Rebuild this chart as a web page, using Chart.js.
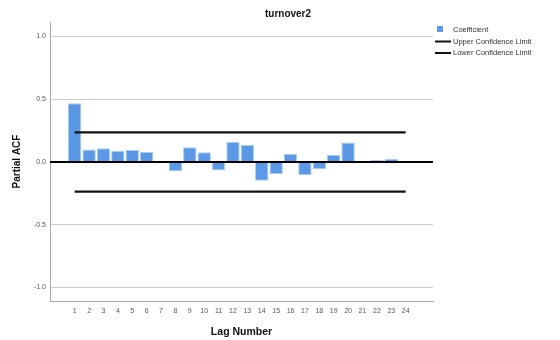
<!DOCTYPE html>
<html>
<head>
<meta charset="utf-8">
<script src="https://cdn.jsdelivr.net/npm/chart.js@4.4.1/dist/chart.umd.min.js"></script>
<style>
  html, body { margin: 0; padding: 0; background: #ffffff; }
  #wrap { width: 560px; height: 340px; position: relative; }
</style>
</head>
<body>
<div id="wrap"><canvas id="c" width="560" height="340"></canvas></div>
<script>
// Partial autocorrelation of turnover2, lags 1..24
const chartTitle = 'turnover2';
const lags = [1, 2, 3, 4, 5, 6, 7, 8, 9, 10, 11, 12, 13, 14, 15, 16, 17, 18, 19, 20, 21, 22, 23, 24];
const pacf = [0.467, 0.100, 0.110, 0.087, 0.095, 0.080, -0.004, -0.074, 0.117, 0.077, -0.069, 0.159,
              0.135, -0.149, -0.096, 0.064, -0.106, -0.058, 0.056, 0.154, 0.003, 0.016, 0.024, -0.006];
const upperLimit = 0.236;
const lowerLimit = -0.236;
const yTicks = [-1.0, -0.5, 0.0, 0.5, 1.0];
const seriesNames = ['Coefficient', 'Upper Confidence Limit', 'Lower Confidence Limit'];

const FONT = "'Liberation Sans', Arial, sans-serif";
const barFill = '#5b98e6';
const barEdge = '#a9cbf2';

// Black reference line at zero, drawn over the bars
const zeroLine = {
  id: 'zeroLine',
  afterDatasetsDraw(chart) {
    const { ctx, chartArea, scales } = chart;
    const y = scales.y.getPixelForValue(0);
    ctx.save();
    ctx.strokeStyle = '#000000';
    ctx.lineWidth = 2;
    ctx.beginPath();
    ctx.moveTo(chartArea.left, y);
    ctx.lineTo(chartArea.right, y);
    ctx.stroke();
    ctx.restore();
  }
};

// Heading above the plot
const heading = {
  id: 'heading',
  afterDraw(chart) {
    const ctx = chart.ctx;
    ctx.save();
    ctx.fillStyle = '#111111';
    ctx.font = 'bold 10px ' + FONT;
    ctx.textAlign = 'center';
    ctx.textBaseline = 'middle';
    ctx.fillText(chartTitle, 288, 14);
    ctx.restore();
  }
};

// Key at the upper right
const key = {
  id: 'key',
  afterDraw(chart) {
    const ctx = chart.ctx;
    const ds = chart.data.datasets;
    const x0 = 435, y0 = 30, step = 11.5;
    ctx.save();
    ctx.font = '7.5px ' + FONT;
    ctx.textBaseline = 'middle';
    ctx.textAlign = 'left';
    ds.forEach((d, i) => {
      const y = y0 + i * step;
      if (d.type === 'line') {
        ctx.strokeStyle = d.borderColor;
        ctx.lineWidth = 2;
        ctx.beginPath();
        ctx.moveTo(x0, y);
        ctx.lineTo(x0 + 16, y);
        ctx.stroke();
      } else {
        ctx.fillStyle = d.backgroundColor;
        ctx.fillRect(x0 + 2, y - 4, 6, 6);
      }
      ctx.fillStyle = '#333333';
      ctx.fillText(d.label, x0 + 18, y);
    });
    ctx.restore();
  }
};

new Chart(document.getElementById('c'), {
  type: 'bar',
  data: {
    datasets: [
      {
        type: 'bar',
        label: seriesNames[0],
        data: lags.map((l, i) => ({ x: l, y: pacf[i] })),
        backgroundColor: barFill,
        borderColor: barEdge,
        borderWidth: 1,
        barPercentage: 0.93,
        categoryPercentage: 1.0,
        order: 2
      },
      {
        type: 'line',
        label: seriesNames[1],
        data: [{ x: lags[0], y: upperLimit }, { x: lags[lags.length - 1], y: upperLimit }],
        borderColor: '#111111',
        borderWidth: 2.2,
        pointRadius: 0,
        fill: false,
        order: 1
      },
      {
        type: 'line',
        label: seriesNames[2],
        data: [{ x: lags[0], y: lowerLimit }, { x: lags[lags.length - 1], y: lowerLimit }],
        borderColor: '#111111',
        borderWidth: 2.2,
        pointRadius: 0,
        fill: false,
        order: 1
      }
    ]
  },
  options: {
    responsive: false,
    animation: false,
    layout: { padding: { left: 0, right: 127, top: 22, bottom: 0 } },
    plugins: {
      legend: { display: false },
      title: { display: false },
      tooltip: { enabled: false }
    },
    scales: {
      x: {
        type: 'linear',
        offset: false,
        min: -0.716,
        max: 25.9,
        afterBuildTicks(scale) { scale.ticks = lags.map(v => ({ value: v })); },
        afterFit(scale) { scale.height = 39; },
        grid: { display: false, drawTicks: false },
        border: { display: true, color: '#a8a8a8', width: 1 },
        ticks: {
          autoSkip: false,
          maxRotation: 0,
          padding: 6,
          color: '#555555',
          font: { family: FONT, size: 7 },
          callback: v => String(v)
        },
        title: {
          display: true,
          text: 'Lag Number',
          color: '#111111',
          font: { family: FONT, size: 10.5, weight: 'bold' },
          padding: { top: 0, bottom: 2 }
        }
      },
      y: {
        min: -1.108,
        max: 1.115,
        afterBuildTicks(scale) { scale.ticks = yTicks.map(v => ({ value: v })); },
        afterFit(scale) { scale.width = 50; },
        grid: { color: '#cccccc', lineWidth: 1, drawTicks: false },
        border: { display: true, color: '#a8a8a8', width: 1 },
        ticks: {
          padding: 4,
          color: '#555555',
          font: { family: FONT, size: 7 },
          callback: v => Number(v).toFixed(1)
        },
        title: {
          display: true,
          text: 'Partial ACF',
          color: '#111111',
          font: { family: FONT, size: 10, weight: 'bold' },
          padding: { top: 11, bottom: 0 }
        }
      }
    }
  },
  plugins: [zeroLine, heading, key]
});
</script>
</body>
</html>
